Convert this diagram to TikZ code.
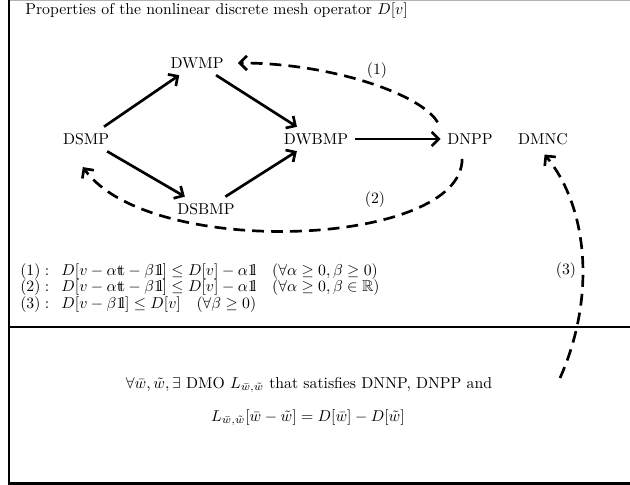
\documentclass[tikz,border=0pt]{standalone}
\usepackage{amsmath,amssymb}
\usetikzlibrary{arrows.meta}
\newcommand{\bbone}{\mathrm{1\mkern-4.2mu l}}
\newcommand{\bbtee}{\mathrm{t\mkern-4.5mu t}}
\begin{document}
\begin{tikzpicture}[x=0.635pt,y=-0.635pt,
  lbl/.style={inner sep=4pt},
  arr/.style={line width=1.7pt,-{Straight Barb[length=4.5pt,width=9pt,line width=1.7pt]}},
  darr/.style={arr,dash pattern=on 7.5pt off 4.5pt},
  frameline/.style={line width=1.9pt}]
\useasboundingbox (0,0) rectangle (630,485);
\draw[gray!60,line width=0.8pt] (9,0.5) -- (630,0.5);
\draw[frameline] (9,0) -- (9,483) -- (632,483);
\draw[frameline] (9,327) -- (632,327);
\node[anchor=base west,inner sep=0pt] (title) at (25,15) {Properties of the nonlinear discrete mesh operator $D[v]$};
\node[lbl] (dwmp) at (197,63) {DWMP};
\node[lbl] (dsmp) at (86,139) {DSMP};
\node[lbl] (dwbmp) at (316,139) {DWBMP};
\node[lbl] (dsbmp) at (206,209) {DSBMP};
\node[lbl] (dnpp) at (470,139) {DNPP};
\node[lbl] (dmnc) at (543,139) {DMNC};
\draw[arr] (dsmp) -- (dwmp);
\draw[arr] (dwmp) -- (dwbmp);
\draw[arr] (dsmp) -- (dsbmp);
\draw[arr] (dsbmp) -- (dwbmp);
\draw[arr] (dwbmp) -- (dnpp);
\coordinate (s1) at ([xshift=-2pt,yshift=3pt]dnpp.north west);
\coordinate (e1) at ([xshift=5pt]dwmp.east);
\draw[darr] (s1) .. controls +(-16,-28) and +(93,0) .. (e1);
\node (l1) at (377,71) {(1)};
\coordinate (s2) at ([xshift=-5pt,yshift=-5pt]dnpp.south);
\coordinate (e2) at ([xshift=-2pt,yshift=-10pt]dsmp.south);
\draw[darr] (s2) .. controls +(0,88) and +(67,93) .. (e2);
\node (l2) at (375,200) {(2)};
\coordinate (s3) at (560,378);
\coordinate (e3) at ([xshift=1pt,yshift=-2pt]dmnc.south);
\draw[darr] (s3) .. controls +(35,-78) and +(45,55) .. (e3);
\node (l3) at (566,271) {(3)};
\node[anchor=north west,inner sep=0pt] (eqs) at (20,263) {\renewcommand{\arraystretch}{0.85}%
\begin{tabular}{@{}l@{}}
$(1):\enskip D[v-\alpha\bbtee-\beta\bbone]\le D[v]-\alpha\bbone\quad(\forall\alpha\ge0,\beta\ge0)$\\
$(2):\enskip D[v-\alpha\bbtee-\beta\bbone]\le D[v]-\alpha\bbone\quad(\forall\alpha\ge0,\beta\in\mathbb{R})$\\
$(3):\enskip D[v-\beta\bbone]\le D[v]\quad(\forall\beta\ge0)$
\end{tabular}};
\node[anchor=base,inner sep=0pt] (b1) at (309,388) {$\forall\bar w,\tilde w,\exists$ DMO $L_{\bar w,\tilde w}$ that satisfies DNNP, DNPP and};
\node[anchor=base,inner sep=0pt] (b2) at (308,421) {$L_{\bar w,\tilde w}[\bar w-\tilde w]=D[\bar w]-D[\tilde w]$};
\end{tikzpicture}
\end{document}
